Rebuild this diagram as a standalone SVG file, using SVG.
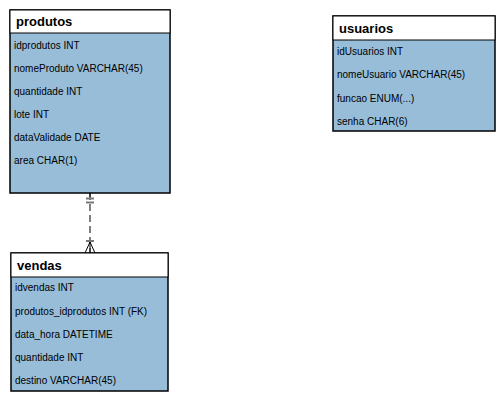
<svg xmlns="http://www.w3.org/2000/svg" width="504" height="400" viewBox="0 0 504 400">
<style>
.body{fill:#97bdd9;stroke:#000;stroke-width:1.5}
.head{fill:#fff;stroke:#000;stroke-width:1}
.t{font-family:"Liberation Sans",Arial,sans-serif;font-size:10px;fill:#000}
.h{font-family:"Liberation Sans",Arial,sans-serif;font-size:13px;font-weight:bold;fill:#000}
.rel{stroke:#000;stroke-width:1;fill:none}
.tick{stroke:#777;stroke-width:2;fill:none}
</style>
<rect width="504" height="400" fill="#fff"/>
<g id="connectors">
<line class="rel" x1="90" y1="193" x2="90" y2="253" stroke-dasharray="7,4"/>
<line class="rel" x1="90" y1="193" x2="90" y2="197"/>
<line class="tick" x1="86" y1="198.5" x2="94" y2="198.5"/>
<line class="tick" x1="86" y1="202.5" x2="94" y2="202.5"/>
<line class="tick" x1="86" y1="241" x2="94" y2="241"/>
<path class="rel" d="M85,253 L90,242 L95,253 M90,242 L90,253"/>
</g>
<g id="produtos">
<rect class="body" x="10" y="10" width="160" height="183"/>
<rect class="head" x="10" y="10" width="160" height="23"/>
<text class="h" x="16" y="26">produtos</text>
<text class="t" x="14" y="49">idprodutos INT</text>
<text class="t" x="14" y="72">nomeProduto VARCHAR(45)</text>
<text class="t" x="14" y="95">quantidade INT</text>
<text class="t" x="14" y="118">lote INT</text>
<text class="t" x="14" y="141">dataValidade DATE</text>
<text class="t" x="14" y="164">area CHAR(1)</text>
</g>
<g id="vendas">
<rect class="body" x="11" y="253" width="157" height="138"/>
<rect class="head" x="11" y="253" width="157" height="24"/>
<text class="h" x="17" y="270">vendas</text>
<text class="t" x="15" y="291">idvendas INT</text>
<text class="t" x="15" y="315">produtos_idprodutos INT (FK)</text>
<text class="t" x="15" y="338">data_hora DATETIME</text>
<text class="t" x="15" y="361">quantidade INT</text>
<text class="t" x="15" y="384">destino VARCHAR(45)</text>
</g>
<g id="usuarios">
<rect class="body" x="333" y="16" width="162" height="115"/>
<rect class="head" x="333" y="16" width="162" height="24"/>
<text class="h" x="339" y="33">usuarios</text>
<text class="t" x="337" y="55">idUsuarios INT</text>
<text class="t" x="337" y="78">nomeUsuario VARCHAR(45)</text>
<text class="t" x="337" y="102">funcao ENUM(...)</text>
<text class="t" x="337" y="125">senha CHAR(6)</text>
</g>
</svg>
